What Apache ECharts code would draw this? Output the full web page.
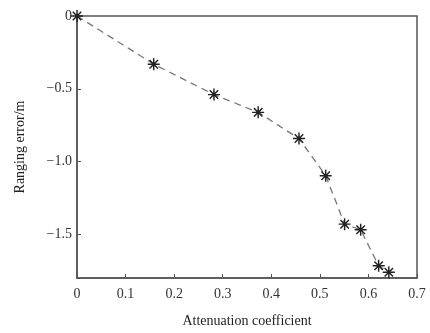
<!DOCTYPE html>
<html><head><meta charset="utf-8">
<script src="https://cdn.jsdelivr.net/npm/echarts@6/dist/echarts.min.js"></script>
<style>html,body{margin:0;padding:0;background:#fff}#c{width:430px;height:333px}</style>
</head><body><div id="c"></div>
<script>
var attenuation = [0, 0.158, 0.282, 0.373, 0.457, 0.512, 0.551, 0.584, 0.621, 0.642];
var rangingError = [0, -0.331, -0.54, -0.662, -0.842, -1.097, -1.43, -1.468, -1.716, -1.761];
var xTicks = [0, 0.1, 0.2, 0.3, 0.4, 0.5, 0.6, 0.7];
var yTicks = [0, -0.5, -1.0, -1.5];

var star = 'path://M0 8.8L20 8.8L20 11.2L0 11.2Z M8.8 0L11.2 0L11.2 20L8.8 20Z M3.78 2.08L17.92 16.22L16.22 17.92L2.08 3.78Z M17.92 3.78L3.78 17.92L2.08 16.22L16.22 2.08Z';
var font = '"Liberation Serif", "Times New Roman", serif';
var axisCol = '#555';
var chart = echarts.init(document.getElementById('c'), null, {renderer: 'canvas'});
// y axis is drawn on the magnitude scale (inverse), labels show the signed values
chart.setOption({
  animation: false,
  backgroundColor: '#fff',
  grid: {left: 77, right: 13, top: 16, bottom: 51, show: true, borderColor: axisCol, borderWidth: 1.5},
  xAxis: {
    type: 'value', min: 0, max: 0.7, interval: 0.1,
    name: 'Attenuation coefficient', nameLocation: 'middle', nameGap: 36,
    nameTextStyle: {fontFamily: font, fontSize: 14, color: '#222'},
    axisLine: {show: true, onZero: false, lineStyle: {color: axisCol, width: 1.5}},
    axisTick: {show: true, inside: true, length: 4, lineStyle: {color: axisCol, width: 1}},
    splitLine: {show: false},
    axisLabel: {fontFamily: font, fontSize: 14, color: '#333', margin: 9,
      formatter: function (v) { return xTicks.indexOf(Math.round(v*10)/10) >= 0 ? String(Math.round(v*10)/10) : ''; }}
  },
  yAxis: {
    type: 'value', min: 0, max: 1.8, interval: 0.5, inverse: true,
    name: 'Ranging error/m', nameLocation: 'middle', nameGap: 50, nameRotate: 90,
    nameTextStyle: {fontFamily: font, fontSize: 14, color: '#222'},
    axisLine: {show: true, onZero: false, lineStyle: {color: axisCol, width: 1.5}},
    axisTick: {show: true, inside: true, length: 4, lineStyle: {color: axisCol, width: 1}},
    splitLine: {show: false},
    axisLabel: {fontFamily: font, fontSize: 14, color: '#333', margin: 5,
      formatter: function (v) {
        var r = -Math.round(v*10)/10;
        var hit = yTicks.filter(function (t) { return Math.abs(t - r) < 1e-6; });
        if (!hit.length) return '';
        if (r === 0) return '0';
        return '\u2212' + Math.abs(r).toFixed(1);
      }}
  },
  series: [{
    type: 'line',
    data: attenuation.map(function (x, i) { return [x, -rangingError[i]]; }),
    lineStyle: {color: '#777', width: 1.3, type: [7, 5]},
    symbol: star, symbolSize: 12,
    itemStyle: {color: '#222'}
  }]
});
</script></body></html>
